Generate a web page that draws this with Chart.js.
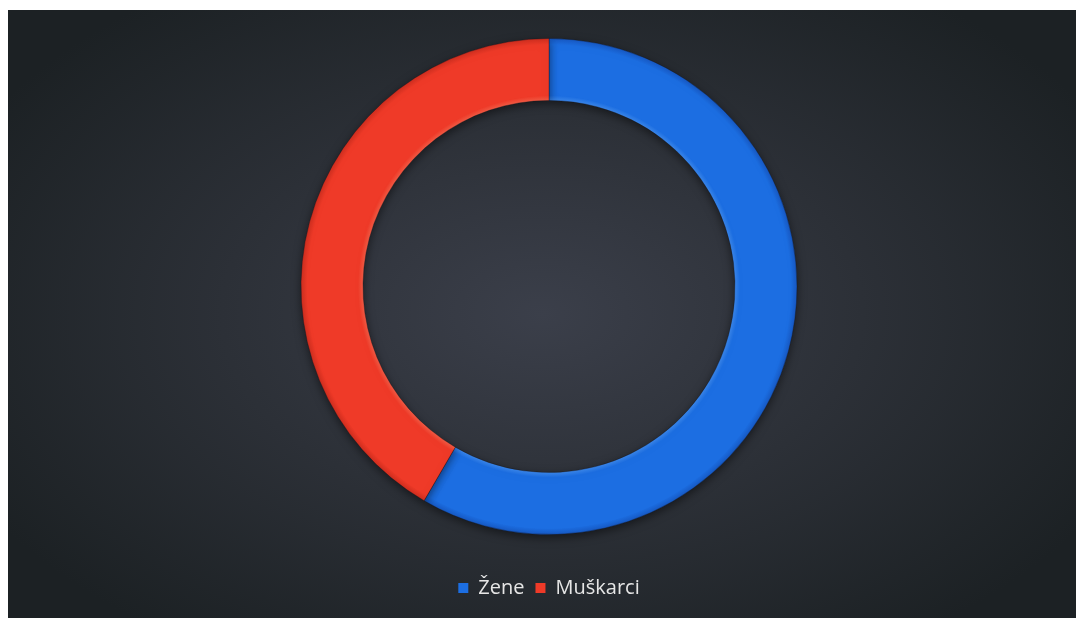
<!DOCTYPE html>
<html lang="hr">
<head>
    <meta charset="UTF-8">
    <title>Žene / Muškarci</title>
    <script src="https://cdn.jsdelivr.net/npm/chart.js@4.4.1/dist/chart.umd.min.js"></script>
    <style>
        html, body {
            margin: 0;
            padding: 0;
            background: #ffffff;
            width: 1076px;
            height: 618px;
            overflow: hidden;
        }
        #bg {
            position: absolute;
            left: 8px;
            top: 10px;
            width: 1068px;
            height: 608px;
            background: radial-gradient(ellipse 60% 65% at 50% 50%, #3b3f4a 0%, #2c3037 50%, #1c2124 100%);
        }
        #wrap {
            position: absolute;
            left: 8px;
            top: 6px;
            width: 1068px;
            height: 602px;
        }
    </style>
</head>
<body>
    <div id="bg"></div>
    <div id="wrap"><canvas id="pie"></canvas></div>

    <script>
        // data
        const categories = ['Žene', 'Muškarci'];
        const shares = [58.4, 41.6];
        const baseColors = ['#1c6ee2', '#ef3a28'];
        // inner rim / body / outer rim shades
        const shades = [
            ['#3a86ea', '#1c6ee2', '#1759c4'],
            ['#f25a44', '#ef3a28', '#cf2e1f']
        ];

        const outerR = 248;

        function ringFill(context) {
            const chart = context.chart;
            const area = chart.chartArea;
            const i = context.dataIndex;
            if (!area) return baseColors[i];
            const cx = (area.left + area.right) / 2;
            const cy = (area.top + area.bottom) / 2;
            const g = chart.ctx.createRadialGradient(cx, cy, outerR * 0.75, cx, cy, outerR);
            g.addColorStop(0, shades[i][0]);
            g.addColorStop(0.08, shades[i][1]);
            g.addColorStop(0.9, shades[i][1]);
            g.addColorStop(1, shades[i][2]);
            return g;
        }

        const shadow = {
            id: 'shadow',
            beforeDatasetsDraw(chart) {
                const c = chart.ctx;
                c.save();
                c.shadowColor = 'rgba(0,0,0,0.5)';
                c.shadowBlur = 10;
                c.shadowOffsetY = 3;
            },
            afterDatasetsDraw(chart) {
                chart.ctx.restore();
            }
        };

        new Chart(document.getElementById('pie'), {
            type: 'doughnut',
            data: {
                labels: categories,
                datasets: [{
                    data: shares,
                    backgroundColor: ringFill,
                    borderColor: 'rgba(20,20,30,0.35)',
                    borderWidth: 1,
                    radius: outerR
                }]
            },
            options: {
                responsive: true,
                maintainAspectRatio: false,
                animation: false,
                cutout: '75%',
                layout: {
                    padding: { top: 0, bottom: 0, left: 14, right: 0 }
                },
                plugins: {
                    legend: {
                        position: 'bottom',
                        labels: {
                            color: '#e6e6e6',
                            boxWidth: 10,
                            boxHeight: 10,
                            padding: 11,
                            font: { family: 'Open Sans', size: 20 },
                            generateLabels(chart) {
                                return categories.map((name, i) => ({
                                    text: name,
                                    fillStyle: baseColors[i],
                                    strokeStyle: baseColors[i],
                                    lineWidth: 0,
                                    fontColor: '#e6e6e6',
                                    hidden: false,
                                    index: i
                                }));
                            }
                        }
                    },
                    tooltip: { enabled: false }
                }
            },
            plugins: [shadow]
        });
    </script>
</body>
</html>
